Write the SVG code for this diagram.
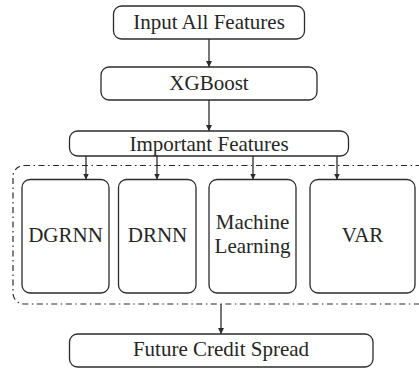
<svg xmlns="http://www.w3.org/2000/svg" width="419" height="370" viewBox="0 0 419 370">
  <defs>
    <marker id="arrow" viewBox="0 0 10 10" refX="10" refY="5" markerWidth="6" markerHeight="6" markerUnits="userSpaceOnUse" orient="auto">
      <path d="M0,0 L10,5 L0,10 z" fill="#2b2b2b"/>
    </marker>
  </defs>
  <style>
    .box { fill: #ffffff; stroke: #2b2b2b; stroke-width: 1.3; }
    .group { fill: none; stroke: #2b2b2b; stroke-width: 1.2; stroke-dasharray: 6 3.5 1.5 3.5; }
    .edge { fill: none; stroke: #2b2b2b; stroke-width: 1.3; marker-end: url(#arrow); }
    .label { font-size: 21px; fill: #262626; text-anchor: middle; }
  </style>
  <rect width="419" height="370" fill="#ffffff"/>

  <!-- dash-dot container around the four models -->
  <rect class="group" x="13" y="165.5" width="420" height="138.5" rx="11" ry="11"/>

  <g id="connectors">
    <line class="edge" x1="209" y1="39" x2="209" y2="67"/>
    <line class="edge" x1="209" y1="100" x2="209" y2="131"/>
    <line class="edge" x1="86" y1="156" x2="86" y2="179.5"/>
    <line class="edge" x1="157" y1="156" x2="157" y2="179.5"/>
    <line class="edge" x1="253" y1="156" x2="253" y2="179.5"/>
    <line class="edge" x1="337" y1="156" x2="337" y2="179.5"/>
    <line class="edge" x1="221" y1="304" x2="221" y2="334"/>
  </g>

  <g font-family="'Liberation Serif', 'DejaVu Serif', serif">
    <g id="input-all-features">
      <rect class="box" x="113.5" y="6" width="191" height="33" rx="8" ry="8"/>
      <text class="label" x="209" y="28.5">Input All Features</text>
    </g>

    <g id="xgboost">
      <rect class="box" x="101" y="67" width="216" height="33" rx="8" ry="8"/>
      <text class="label" x="209" y="89.5">XGBoost</text>
    </g>

    <g id="important-features">
      <rect class="box" x="69.5" y="131" width="279" height="25" rx="8" ry="8"/>
      <text class="label" x="209" y="151">Important Features</text>
    </g>

    <g id="dgrnn">
      <rect class="box" x="22" y="179.5" width="87" height="113.5" rx="8" ry="8"/>
      <text class="label" x="65.5" y="242">DGRNN</text>
    </g>

    <g id="drnn">
      <rect class="box" x="118.5" y="179.5" width="77.5" height="113.5" rx="8" ry="8"/>
      <text class="label" x="157.5" y="242">DRNN</text>
    </g>

    <g id="machine-learning">
      <rect class="box" x="209" y="179.5" width="87" height="113.5" rx="8" ry="8"/>
      <text class="label" x="252.5" y="228.5">Machine</text>
      <text class="label" x="252.5" y="253">Learning</text>
    </g>

    <g id="var">
      <rect class="box" x="310" y="179.5" width="105" height="113.5" rx="8" ry="8"/>
      <text class="label" x="362.5" y="242">VAR</text>
    </g>

    <g id="future-credit-spread">
      <rect class="box" x="69.5" y="334" width="303.5" height="33" rx="8" ry="8"/>
      <text class="label" x="221" y="356">Future Credit Spread</text>
    </g>
  </g>
</svg>
